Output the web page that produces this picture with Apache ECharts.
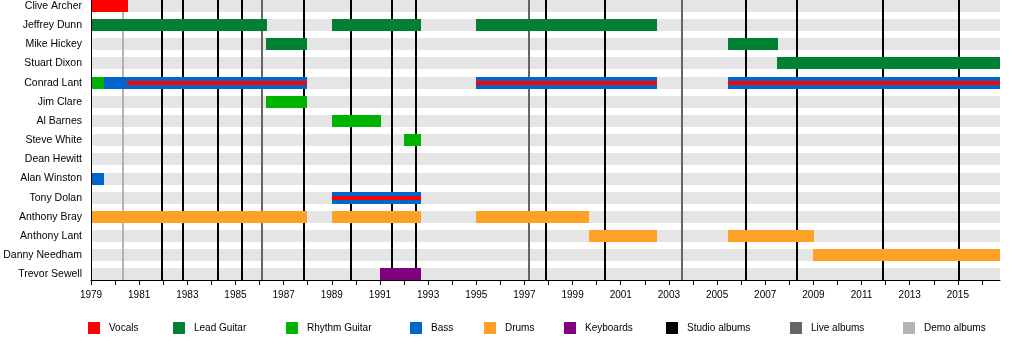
<!DOCTYPE html>
<html>
<head>
<meta charset="utf-8">
<script src="https://cdn.jsdelivr.net/npm/echarts@6/dist/echarts.min.js"></script>
<style>
html,body{margin:0;padding:0;background:#fff;}
#chart{width:1030px;height:340px;}
</style>
</head>
<body>
<div id="chart"></div>
<script>
const members = ['Clive Archer','Jeffrey Dunn','Mike Hickey','Stuart Dixon','Conrad Lant','Jim Clare','Al Barnes','Steve White','Dean Hewitt','Alan Winston','Tony Dolan','Anthony Bray','Anthony Lant','Danny Needham','Trevor Sewell'];
const startYear = 1979;
const endYear = 2016.75;
const yearTicks = [1979,1980,1981,1982,1983,1984,1985,1986,1987,1988,1989,1990,1991,1992,1993,1994,1995,1996,1997,1998,1999,2000,2001,2002,2003,2004,2005,2006,2007,2008,2009,2010,2011,2012,2013,2014,2015,2016];
const yearLabels = [1979,1981,1983,1985,1987,1989,1991,1993,1995,1997,1999,2001,2003,2005,2007,2009,2011,2013,2015];

// [memberIndex, from, to]
const vocals = [[0,1979,1980.53]];
const vocalsWithBass = [[4,1980.5,1987.96],[4,1995.0,2002.52],[4,2005.46,2016.75],[10,1989.0,1992.69]];
const leadGuitar = [[1,1979,1986.3],[1,1989.0,1992.69],[1,1995.0,2002.52],[2,1986.26,1987.96],[2,2005.46,2007.54],[3,2007.5,2016.75]];
const rhythmGuitar = [[4,1979,1979.54],[5,1986.26,1987.96],[6,1989.0,1991.03],[7,1991.98,1992.69]];
const bass = [[4,1979.54,1987.96],[4,1995.0,2002.52],[4,2005.46,2016.75],[9,1979,1979.54],[10,1989.0,1992.69]];
const drums = [[11,1979,1987.96],[11,1989.0,1992.69],[11,1995.0,1999.7],[12,1999.68,2002.52],[12,2005.46,2009.03],[13,2009.0,2016.75]];
const keyboards = [[14,1991.0,1992.69]];
const studioAlbums = [1981.96,1982.83,1984.28,1985.26,1987.85,1989.80,1991.50,1992.49,1997.89,2000.33,2006.22,2008.34,2011.90,2015.06];
const liveAlbums = [1986.11,1997.18,2003.53];
const demoAlbums = [1980.34];

const FONT = 'Liberation Sans, Arial, sans-serif';

function barRender(frac) {
  return function (params, api) {
    const row = api.value(0);
    const s = api.coord([api.value(1), row]);
    const e = api.coord([api.value(2), row]);
    const h = api.size([0, 1])[1] * frac;
    const y0 = Math.round(s[1] - h / 2);
    const y1 = Math.round(s[1] + h / 2);
    const x0 = Math.round(s[0]);
    const x1 = Math.round(e[0]);
    return {type: 'rect', shape: {x: x0, y: y0, width: x1 - x0, height: y1 - y0}, style: {fill: api.visual('color')}};
  };
}
function bgRender(params, api) {
  const cs = params.coordSys;
  const c = api.coord([startYear, api.value(0)]);
  const h = api.size([0, 1])[1] * 0.625;
  const y0 = Math.round(c[1] - h / 2);
  const y1 = Math.round(c[1] + h / 2);
  return {type: 'rect', shape: {x: cs.x, y: y0, width: cs.width, height: y1 - y0}, style: {fill: '#e5e5e5'}};
}
function lineRender(params, api) {
  const cs = params.coordSys;
  const x = Math.round(api.coord([api.value(0), 0])[0]);
  return {type: 'line', shape: {x1: x, y1: cs.y, x2: x, y2: cs.y + cs.height}, style: {stroke: api.visual('color'), lineWidth: 2}};
}

function barSeries(name, data, color, frac, z) {
  return {name, type: 'custom', data, renderItem: barRender(frac), itemStyle: {color}, encode: {x: [1, 2], y: 0}, z, silent: true};
}
function lineSeries(name, data, color) {
  return {name, type: 'custom', data: data.map(v => [v]), renderItem: lineRender, itemStyle: {color}, encode: {x: 0}, z: 2, silent: true};
}

const legendItems = [
  ['Vocals', 88], ['Lead Guitar', 173], ['Rhythm Guitar', 286], ['Bass', 410], ['Drums', 484],
  ['Keyboards', 564], ['Studio albums', 666], ['Live albums', 790], ['Demo albums', 903]
];

const option = {
  animation: false,
  grid: {left: 91, top: 0, width: 909, height: 280, containLabel: false, outerBoundsMode: 'none'},
  xAxis: {
    type: 'value', min: startYear, max: endYear, z: 10,
    axisLine: {show: true, onZero: false, lineStyle: {color: '#000', width: 1}},
    axisTick: {show: true, customValues: yearTicks, length: 5, lineStyle: {color: '#000', width: 1}},
    axisLabel: {customValues: yearLabels, formatter: v => String(v), fontSize: 10, color: '#000', fontFamily: FONT, margin: 10},
    splitLine: {show: false}
  },
  yAxis: {
    type: 'value', inverse: true, min: -0.31, max: 14.29, z: 10,
    axisLine: {show: true, onZero: false, lineStyle: {color: '#000', width: 1}},
    axisTick: {show: false},
    axisLabel: {customValues: members.map((m, i) => i), formatter: v => members[v] || '', fontSize: 10.5, color: '#000', fontFamily: FONT, margin: 9},
    splitLine: {show: false}
  },
  legend: legendItems.map(([name, left]) => ({
    data: [{name, icon: 'rect'}], left, top: 322, padding: 0, itemWidth: 12, itemHeight: 12,
    selectedMode: false, textStyle: {fontSize: 10, color: '#000', fontFamily: FONT, padding: [0, 0, 0, 4]}
  })),
  series: [
    {type: 'custom', data: members.map((m, i) => [i]), renderItem: bgRender, encode: {y: 0}, z: 1, silent: true},
    lineSeries('Studio albums', studioAlbums, '#000000'),
    lineSeries('Live albums', liveAlbums, '#666666'),
    lineSeries('Demo albums', demoAlbums, '#b3b3b3'),
    barSeries('Vocals', vocals, '#ff0000', 0.625, 3),
    barSeries('Lead Guitar', leadGuitar, '#008033', 0.625, 3),
    barSeries('Rhythm Guitar', rhythmGuitar, '#00b300', 0.625, 3),
    barSeries('Bass', bass, '#0066cc', 0.625, 3),
    barSeries('Drums', drums, '#ffa029', 0.625, 3),
    barSeries('Keyboards', keyboards, '#800080', 0.625, 3),
    barSeries('Vocals', vocalsWithBass, '#ff0000', 0.21, 4)
  ]
};
const chart = echarts.init(document.getElementById('chart'), null, {renderer: 'canvas'});
chart.setOption(option);
</script>
</body>
</html>
